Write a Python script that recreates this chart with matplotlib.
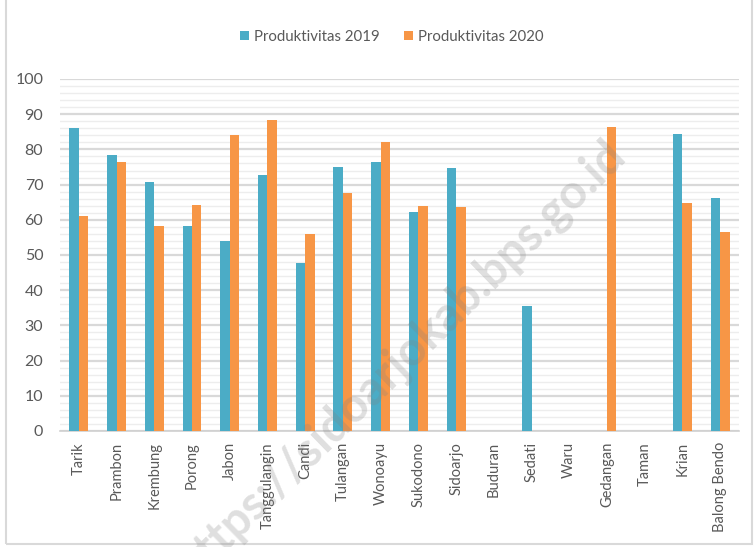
import matplotlib
matplotlib.use("Agg")
import matplotlib.pyplot as plt
import numpy as np
from matplotlib.patches import Rectangle

categories = ["Tarik", "Prambon", "Krembung", "Porong", "Jabon", "Tanggulangin",
              "Candi", "Tulangan", "Wonoayu", "Sukodono", "Sidoarjo", "Buduran",
              "Sedati", "Waru", "Gedangan", "Taman", "Krian", "Balong Bendo"]
prod_2019 = [86.0, 78.4, 70.8, 58.2, 54.1, 72.6, 47.8, 75.0, 76.5, 62.3, 74.6,
             np.nan, 35.4, np.nan, np.nan, np.nan, 84.5, 66.1]
prod_2020 = [61.0, 76.3, 58.2, 64.2, 84.1, 88.3, 56.0, 67.7, 82.2, 63.9, 63.6,
             np.nan, np.nan, np.nan, 86.4, np.nan, 64.8, 56.6]
series_names = ["Produktivitas 2019", "Produktivitas 2020"]
yticks = list(range(0, 101, 10))

plt.rcParams['font.family'] = ['Lato', 'DejaVu Sans']
text_color = '#595959'

fig = plt.figure(figsize=(7.54, 5.47), dpi=100)
ax = fig.add_axes([60/754, 1 - 431/547, (739-60)/754, (431-79)/547])

x = np.arange(len(categories))
w = 0.25
ax.bar(x - w/2, prod_2019, width=w, color='#4BACC6', label=series_names[0], zorder=3)
ax.bar(x + w/2, prod_2020, width=w, color='#F79646', label=series_names[1], zorder=3)

ax.set_xlim(-0.5, len(categories) - 0.5)
ax.set_ylim(0, 100)
ax.set_yticks(yticks)
ax.set_yticks(np.arange(0, 101, 2), minor=True)
ax.grid(axis='y', which='major', color='#D9D9D9', linewidth=1.6, zorder=1)
ax.grid(axis='y', which='minor', color='#EDEDED', linewidth=1.0, zorder=0)
ax.tick_params(axis='y', which='both', length=0, labelsize=11.5, labelcolor=text_color, pad=12)
ax.set_xticks(x)
ax.set_xticklabels(categories, rotation=90, fontsize=10.5, color=text_color)
ax.tick_params(axis='x', length=0, pad=8)
for s in ['top', 'right', 'left']:
    ax.spines[s].set_visible(False)
ax.spines['bottom'].set_color('#D0D0D0')
ax.spines['bottom'].set_linewidth(1.2)

leg = fig.legend(loc='center', bbox_to_anchor=(392/754, 1 - 37/547), ncol=2, frameon=False,
                 fontsize=10.8, handlelength=0.6, handleheight=0.6, columnspacing=1.6,
                 handletextpad=0.35)
for t in leg.get_texts():
    t.set_color(text_color)

# chart border
fig.patches.append(Rectangle((6/754, 3/547), 746/754, 560/547, transform=fig.transFigure,
                             fill=False, edgecolor='#D9D9D9', linewidth=1.5))

# watermark
fig.text(400/754, 1 - 360/547, "https://sidoarjokab.bps.go.id", rotation=44.3,
         fontsize=34, fontweight='bold', color='#808080', alpha=0.25,
         ha='center', va='center', zorder=10)

fig.savefig("out.png", dpi=100)
